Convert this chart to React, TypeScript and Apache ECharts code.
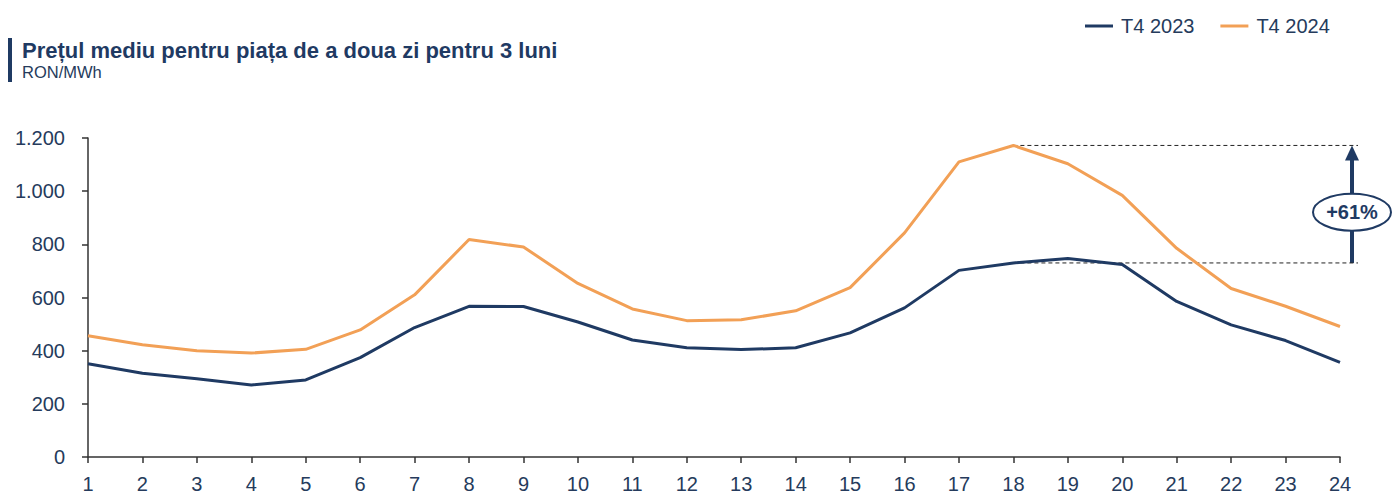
import React, { useEffect, useRef } from "react";
import * as echarts from "echarts";

const hours = ["1","2","3","4","5","6","7","8","9","10","11","12","13","14","15","16","17","18","19","20","21","22","23","24"];
const t4_2023 = [351, 315, 294, 271, 290, 374, 487, 567, 566, 508, 440, 411, 404, 411, 467, 561, 702, 730, 747, 724, 585, 497, 438, 356];
const t4_2024 = [456, 422, 400, 391, 405, 478, 610, 818, 790, 653, 557, 513, 516, 550, 637, 843, 1110, 1172, 1103, 984, 785, 634, 567, 491];
const seriesNames = ["T4 2023", "T4 2024"];
const yTicks = [0, 200, 400, 600, 800, 1000, 1200];
const titleText = "Prețul mediu pentru piața de a doua zi pentru 3 luni";
const unitText = "RON/MWh";
const changeLabel = "+61%";
const peakIndex = 17;

const NAVY = "#1f3a63";
const ORANGE = "#f2a056";
const TEXT = "#253b5c";
const FONT = "Liberation Sans, Arial, sans-serif";

export default function App() {
  const ref = useRef<HTMLDivElement>(null);
  useEffect(() => {
    if (!ref.current) return;
    const chart = echarts.init(ref.current, undefined, { renderer: "svg" });
    chart.setOption({
      animation: false,
      textStyle: { fontFamily: FONT },
      legend: {
        left: 1072,
        top: 3,
        itemWidth: 28,
        itemHeight: 3,
        itemGap: 26,
        icon: "rect",
        textStyle: { fontFamily: FONT, fontSize: 20, color: TEXT, padding: [0, 0, 0, 3] },
        data: seriesNames,
      },
      grid: { left: 80, right: 52, top: 130, bottom: 30, containLabel: false },
      xAxis: {
        type: "category",
        data: hours,
        boundaryGap: false,
        axisLine: { lineStyle: { color: "#333", width: 1.5 } },
        axisTick: { alignWithLabel: true, length: 6, lineStyle: { color: "#333", width: 1.5 } },
        axisLabel: { color: TEXT, fontSize: 20, fontFamily: FONT, margin: 17 },
        splitLine: { show: false },
      },
      yAxis: {
        type: "value",
        min: yTicks[0],
        max: yTicks[yTicks.length - 1],
        interval: 200,
        axisLine: { show: true, lineStyle: { color: "#333", width: 1.5 } },
        axisTick: { show: true, length: 6, lineStyle: { color: "#333", width: 1.5 } },
        axisLabel: {
          color: TEXT,
          fontSize: 20,
          fontFamily: FONT,
          margin: 23,
          formatter: (v: number) => v.toLocaleString("de-DE"),
        },
        splitLine: { show: false },
      },
      series: [
        {
          name: seriesNames[0],
          type: "line",
          data: t4_2023,
          symbol: "none",
          lineStyle: { color: NAVY, width: 3 },
          itemStyle: { color: NAVY },
          z: 3,
        },
        {
          name: seriesNames[1],
          type: "line",
          data: t4_2024,
          symbol: "none",
          lineStyle: { color: ORANGE, width: 3 },
          itemStyle: { color: ORANGE },
          z: 2,
        },
      ],
    });

    const up = chart.convertToPixel({ xAxisIndex: 0, yAxisIndex: 0 }, [peakIndex, t4_2024[peakIndex]]) as number[];
    const lo = chart.convertToPixel({ xAxisIndex: 0, yAxisIndex: 0 }, [peakIndex, t4_2023[peakIndex]]) as number[];
    const last = chart.convertToPixel({ xAxisIndex: 0, yAxisIndex: 0 }, [hours.length - 1, 0]) as number[];
    const endX = last[0] + 18;
    const ax = last[0] + 12;
    const cy = (up[1] + lo[1]) / 2 + 8;

    chart.setOption({
      graphic: [
        { type: "rect", shape: { x: 0, y: 30, width: 4, height: 44 }, style: { fill: NAVY } },
        {
          type: "text",
          x: 14,
          y: 42,
          style: { text: titleText, fill: NAVY, font: `bold 22px ${FONT}`, verticalAlign: "middle" },
        },
        {
          type: "text",
          x: 14,
          y: 64,
          style: { text: unitText, fill: TEXT, font: `16.5px ${FONT}`, verticalAlign: "middle" },
        },
        {
          type: "line",
          z: 1,
          shape: { x1: up[0], y1: up[1], x2: endX, y2: up[1] },
          style: { stroke: "#222", lineWidth: 1, lineDash: [4, 3] },
        },
        {
          type: "line",
          z: 1,
          shape: { x1: lo[0], y1: lo[1], x2: endX, y2: lo[1] },
          style: { stroke: "#222", lineWidth: 1, lineDash: [4, 3] },
        },
        {
          type: "line",
          shape: { x1: ax, y1: lo[1], x2: ax, y2: up[1] + 12 },
          style: { stroke: NAVY, lineWidth: 4 },
        },
        {
          type: "polygon",
          shape: { points: [[ax, up[1]], [ax - 7, up[1] + 15], [ax + 7, up[1] + 15]] },
          style: { fill: NAVY },
        },
        {
          type: "ellipse",
          shape: { cx: ax, cy: cy, rx: 39, ry: 18.5 },
          style: { fill: "#fff", stroke: NAVY, lineWidth: 2 },
        },
        {
          type: "text",
          x: ax,
          y: cy,
          style: {
            text: changeLabel,
            fill: NAVY,
            font: `bold 20px ${FONT}`,
            align: "center",
            verticalAlign: "middle",
          },
        },
      ],
    });

    return () => chart.dispose();
  }, []);
  return <div ref={ref} style={{ width: 1384, height: 486 }} />;
}
